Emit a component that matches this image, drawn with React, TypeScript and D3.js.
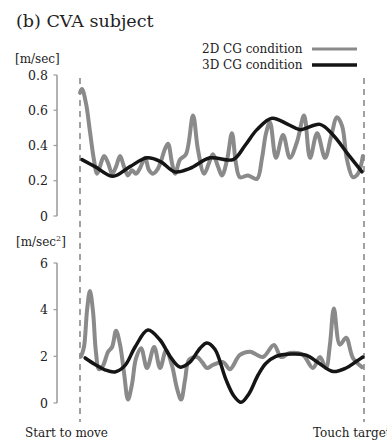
import React from "react";
import * as d3 from "d3";

// time is normalised movement time, 0 = start to move, 100 = touch target
const velTime2D = [0, 0.7, 2.1, 3.5, 4.9, 6.0, 7.0, 8.5, 9.9, 11.3, 12.7, 14.1, 15.5, 16.9, 18.3, 19.7, 21.1, 22.9, 24.3, 25.7, 27.1, 28.5, 29.9, 31.0, 32.4, 33.5, 35.2, 37.3, 39.8, 41.5, 43.7, 45.4, 46.8, 48.6, 50.0, 51.8, 53.5, 54.9, 56.3, 59.2, 62.3, 64.1, 65.5, 66.9, 69.0, 71.5, 73.9, 76.4, 78.9, 81.0, 83.5, 86.3, 88.4, 90.5, 92.3, 94.0, 96.1, 97.9, 99.6];
const vel2D = [0.70, 0.72, 0.64, 0.48, 0.32, 0.24, 0.28, 0.34, 0.30, 0.24, 0.28, 0.34, 0.28, 0.23, 0.26, 0.24, 0.27, 0.33, 0.26, 0.24, 0.26, 0.31, 0.38, 0.41, 0.30, 0.24, 0.32, 0.35, 0.57, 0.38, 0.24, 0.30, 0.35, 0.28, 0.23, 0.32, 0.47, 0.30, 0.22, 0.23, 0.21, 0.33, 0.47, 0.53, 0.33, 0.46, 0.33, 0.42, 0.57, 0.33, 0.47, 0.33, 0.45, 0.56, 0.51, 0.32, 0.22, 0.24, 0.34];

const velTime3D = [0.7, 5.3, 11.6, 17.6, 23.6, 28.2, 33.5, 38.7, 45.8, 53.9, 58.1, 62.3, 67.6, 73.2, 77.5, 84.5, 89.1, 94.4, 99.3];
const vel3D = [0.32, 0.28, 0.225, 0.28, 0.33, 0.31, 0.25, 0.27, 0.33, 0.32, 0.40, 0.49, 0.555, 0.52, 0.49, 0.52, 0.46, 0.35, 0.25];

const accTime2D = [0.4, 1.4, 2.5, 3.5, 4.6, 5.6, 6.7, 8.1, 9.9, 11.3, 12.7, 14.1, 15.5, 16.9, 18.3, 19.7, 21.5, 23.6, 26.1, 28.2, 30.3, 32.4, 34.2, 35.6, 37.0, 38.4, 41.2, 43.0, 44.7, 46.8, 50.4, 52.8, 56.3, 59.9, 64.4, 68.3, 70.8, 73.9, 78.5, 82.0, 84.5, 86.6, 88.0, 89.4, 91.5, 93.7, 96.1, 99.3];
const acc2D = [2.0, 2.4, 4.0, 4.8, 3.9, 2.2, 1.45, 1.6, 2.2, 2.4, 3.1, 2.5, 1.3, 0.15, 0.8, 1.9, 2.35, 1.5, 2.4, 1.5, 2.25, 1.6, 0.6, 0.15, 1.0, 1.85, 1.97, 1.75, 1.5, 1.63, 1.75, 1.45, 2.06, 2.2, 1.97, 2.49, 1.97, 2.14, 2.06, 1.5, 1.97, 1.5, 2.5, 4.05, 2.5, 2.8, 1.93, 1.54];

const accTime3D = [1.8, 5.3, 8.8, 12.3, 15.8, 19.4, 23.9, 28.2, 31.7, 35.2, 38.7, 42.3, 44.7, 47.5, 51.4, 54.2, 56.7, 59.5, 62.7, 65.5, 69.0, 74.3, 79.6, 84.2, 89.1, 93.7, 97.5, 99.6];
const acc3D = [1.93, 1.65, 1.42, 1.33, 1.6, 2.4, 3.13, 2.7, 2.0, 1.54, 1.75, 2.35, 2.57, 2.3, 1.0, 0.3, 0.03, 0.4, 1.2, 1.7, 2.0, 2.1, 2.05, 1.7, 1.35, 1.5, 1.8, 1.97];

const velTicks = [0, 0.2, 0.4, 0.6, 0.8];
const velTickLabels = ["0", "0.2", "0.4", "0.6", "0.8"];
const accTicks = [0, 2, 4, 6];
const accTickLabels = ["0", "2", "4", "6"];
const legendLabels = ["2D CG condition", "3D CG condition"];

const GRAY = "#8a8a8a";
const BLACK = "#151515";
const FONT = "DejaVu Serif, Liberation Serif, serif";

export default function App() {
  const x = d3.scaleLinear().domain([0, 100]).range([80, 364]);
  const yVel = d3.scaleLinear().domain([0, 0.8]).range([216, 75]);
  const yAcc = d3.scaleLinear().domain([0, 6]).range([403, 263]);

  const mk = (ts: number[], vs: number[], y: d3.ScaleLinear<number, number>) => {
    const pts = ts.map((t, i) => [t, vs[i]] as [number, number]);
    return d3
      .line<[number, number]>()
      .x((d) => x(d[0]))
      .y((d) => y(d[1]))
      .curve(d3.curveCatmullRom.alpha(0.5))(pts) as string;
  };

  const txt = { fontFamily: FONT, fill: "#222" } as React.CSSProperties;

  const axis = (y: d3.ScaleLinear<number, number>, ticks: number[], labels: string[]) => {
    const [lo, hi] = y.domain();
    return (
      <g>
        <line x1={57} x2={57} y1={y(hi)} y2={y(lo)} stroke="#999" strokeWidth={1.5} />
        {ticks.map((t, i) => (
          <g key={i}>
            <line x1={53.5} x2={57} y1={y(t)} y2={y(t)} stroke="#999" strokeWidth={1.2} />
            <text x={48} y={y(t) + 4.5} textAnchor="end" fontSize={12.5} style={txt}>
              {labels[i]}
            </text>
          </g>
        ))}
      </g>
    );
  };

  return (
    <svg width={387} height={442} style={{ position: "absolute", left: 0, top: 0 }}>
      <rect width={387} height={442} fill="#fff" />
      <text x={16} y={27} fontSize={17.5} style={txt}>(b) CVA subject</text>

      <text x={202} y={53} fontSize={12} style={txt}>{legendLabels[0]}</text>
      <line x1={312} x2={357} y1={49} y2={49} stroke={GRAY} strokeWidth={3} />
      <text x={202} y={69} fontSize={12} style={txt}>{legendLabels[1]}</text>
      <line x1={312} x2={357} y1={65} y2={65} stroke={BLACK} strokeWidth={3.5} />

      <text x={15} y={63} fontSize={12} style={txt}>[m/sec]</text>
      <text x={16} y={246} fontSize={12} style={txt}>
        [m/sec<tspan dy={-5} fontSize={8}>2</tspan><tspan dy={5}>]</tspan>
      </text>

      {axis(yVel, velTicks, velTickLabels)}
      {axis(yAcc, accTicks, accTickLabels)}

      <line x1={x(0)} x2={x(0)} y1={78} y2={422} stroke={GRAY} strokeWidth={1.6} strokeDasharray="6,5" />
      <line x1={x(100)} x2={x(100)} y1={78} y2={422} stroke={GRAY} strokeWidth={1.6} strokeDasharray="6,5" />

      <path d={mk(velTime2D, vel2D, yVel)} fill="none" stroke={GRAY} strokeWidth={4} strokeLinejoin="round" strokeLinecap="round" />
      <path d={mk(velTime3D, vel3D, yVel)} fill="none" stroke={BLACK} strokeWidth={3.5} strokeLinejoin="round" strokeLinecap="round" />
      <path d={mk(accTime2D, acc2D, yAcc)} fill="none" stroke={GRAY} strokeWidth={4} strokeLinejoin="round" strokeLinecap="round" />
      <path d={mk(accTime3D, acc3D, yAcc)} fill="none" stroke={BLACK} strokeWidth={3.5} strokeLinejoin="round" strokeLinecap="round" />

      <text x={25} y={437} fontSize={12} style={txt}>Start to move</text>
      <text x={313} y={437} fontSize={12} style={txt}>Touch target</text>
    </svg>
  );
}
